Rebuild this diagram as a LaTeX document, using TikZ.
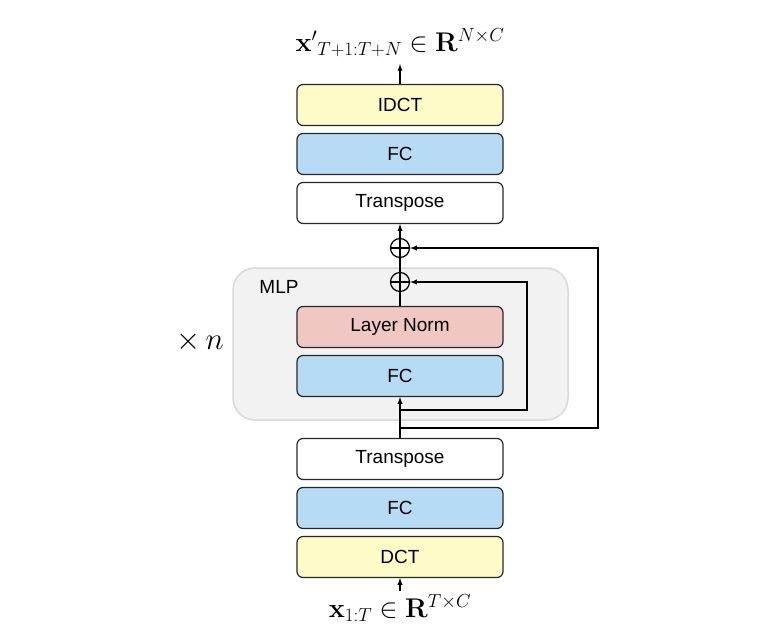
\RequirePackage{fix-cm}
\documentclass[tikz,border=0pt]{standalone}
\usepackage{amsmath}
\usepackage[no-math]{fontspec}
\setmainfont{Liberation Sans}
\usetikzlibrary{arrows}
\usetikzlibrary{math}
\definecolor{qyellow}{RGB}{253,251,200}
\definecolor{qblue}{RGB}{183,218,245}
\definecolor{qpink}{RGB}{241,199,195}
\definecolor{qgray}{RGB}{242,242,242}
\definecolor{qedge}{RGB}{40,40,40}
\tikzset{
  layer/.style={draw=qedge,line width=1.2pt,rounded corners=6pt,minimum width=206pt,minimum height=41pt,font=\fontsize{19}{22}\selectfont},
  adder/.style={circle,draw=black,line width=1.2pt,minimum size=19pt,inner sep=0pt},
  link/.style={line width=1.3pt,-latex}
}
\begin{document}
\begin{tikzpicture}[x=1pt,y=-1pt]
\tikzmath{
\cx=400;
}
\useasboundingbox (0,0) rectangle (782,640);
% MLP block background
\fill[draw=black!15,fill=qgray,line width=1.5pt,rounded corners=22pt] (233,268) rectangle (568,420);
\node[font=\fontsize{19}{22}\selectfont] (mlp) at (279,287) {MLP};
\node[font=\fontsize{31}{34}\selectfont] (times) at (200,342) {$\times\,n$};

\node[layer,fill=qyellow] (idct) at (\cx,105) {IDCT};
\node[layer,fill=qblue] (fc3) at (\cx,154) {FC};
\node[layer,fill=white] (tr2) at (\cx,203) {Transpose};
\node[adder] (add1) at (\cx,248) {};
\node[adder] (add2) at (\cx,282) {};
\node[layer,fill=qpink] (norm) at (\cx,327) {Layer Norm};
\node[layer,fill=qblue] (fc2) at (\cx,376) {FC};
\node[layer,fill=white] (tr1) at (\cx,459) {Transpose};
\node[layer,fill=qblue] (fc1) at (\cx,508) {FC};
\node[layer,fill=qyellow] (dct) at (\cx,557) {DCT};

\node[font=\fontsize{27}{30}\selectfont] (inp) at (\cx,608) {$\mathbf{x}_{1:T}\in\mathbf{R}^{T\times C}$};
\node[font=\fontsize{27}{30}\selectfont] (out) at (\cx,43) {${\mathbf{x}'}_{T+1:T+N}\in\mathbf{R}^{N\times C}$};

\draw[line width=1.2pt] (add1.north)--(add1.south) (add1.west)--(add1.east);
\draw[line width=1.2pt] (add2.north)--(add2.south) (add2.west)--(add2.east);

\coordinate (in1) at (\cx,410);
\coordinate (in2) at (\cx,428);
\draw[link] (\cx,591) -- (dct.south);
\draw[link] (idct.north) -- (\cx,64);
\draw[link] (tr1.north) -- (fc2.south);
\draw[line width=1.3pt] (norm.north) -- (add2.south);
\draw[line width=1.3pt] (add2.north) -- (add1.south);
\draw[link] (add1.north) -- (tr2.south);
\draw[link] (in1) -- (527,410) |- (add2.east);
\draw[link] (in2) -- (598,428) |- (add1.east);
\end{tikzpicture}
\end{document}
